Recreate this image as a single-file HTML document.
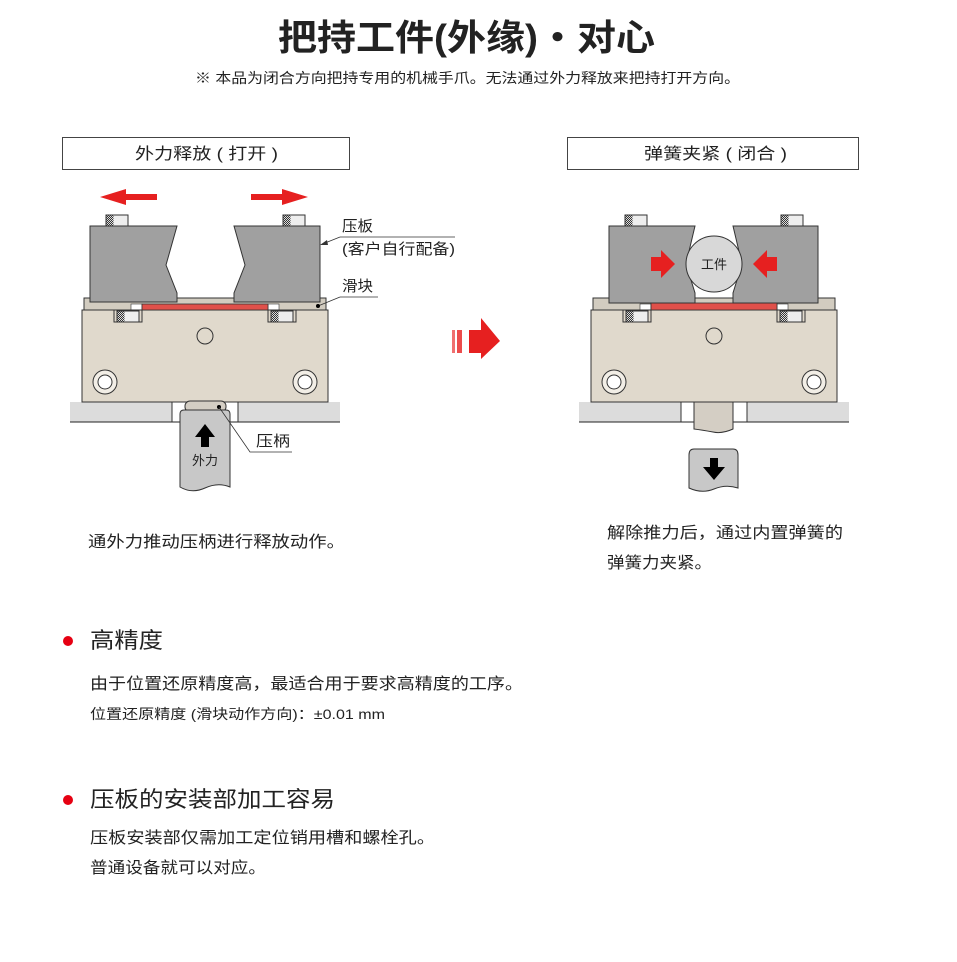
<!DOCTYPE html>
<html><head><meta charset="utf-8"><style>
html,body{margin:0;padding:0;background:#fff;width:957px;height:962px;overflow:hidden}
svg{display:block}
text{font-family:"Liberation Sans","Noto Sans CJK SC",sans-serif;fill:#222}
</style></head><body>
<svg width="957" height="962" viewBox="0 0 957 962" xmlns="http://www.w3.org/2000/svg">
<defs>
<pattern id="kn" width="2" height="2" patternUnits="userSpaceOnUse"><rect width="2" height="2" fill="#ddd"/><rect width="1" height="1" fill="#333"/><rect x="1" y="1" width="1" height="1" fill="#333"/></pattern>
<g id="bolt"><rect x="0" y="0" width="22" height="11" fill="#eee" stroke="#333" stroke-width="1"/><rect x="0.5" y="0.5" width="7" height="10" fill="url(#kn)"/></g>
<g id="base">
<rect x="70" y="402" width="102" height="20" fill="#dcdcdc"/>
<rect x="238" y="402" width="102" height="20" fill="#dcdcdc"/>
<line x1="70" y1="422" x2="340" y2="422" stroke="#222"/>
<line x1="172" y1="402" x2="172" y2="422" stroke="#333"/>
<line x1="238" y1="402" x2="238" y2="422" stroke="#333"/>
<rect x="84" y="298" width="242" height="12" fill="#d2ccc0" stroke="#333"/>
<rect x="82" y="310" width="246" height="92" fill="#e0d9cc" stroke="#333"/>
<rect x="131" y="304" width="11" height="6" fill="#fff" stroke="#333" stroke-width=".6"/>
<rect x="268" y="304" width="11" height="6" fill="#fff" stroke="#333" stroke-width=".6"/>
<rect x="142" y="304" width="126" height="6" fill="#e0504a" stroke="#333" stroke-width=".8"/>
<rect x="114" y="310" width="28" height="12" fill="#e0d9cc" stroke="#333"/>
<use href="#bolt" transform="translate(117,311)"/>
<rect x="268" y="310" width="28" height="12" fill="#e0d9cc" stroke="#333"/>
<use href="#bolt" transform="translate(271,311)"/>
<circle cx="205" cy="336" r="8" fill="none" stroke="#333"/>
<circle cx="105" cy="382" r="12" fill="#f2eee6" stroke="#333"/>
<circle cx="105" cy="382" r="7" fill="#fff" stroke="#333"/>
<circle cx="305" cy="382" r="12" fill="#f2eee6" stroke="#333"/>
<circle cx="305" cy="382" r="7" fill="#fff" stroke="#333"/>
</g>
</defs>

<text x="278" y="50" font-size="36" font-weight="bold" fill="#111" textLength="377" lengthAdjust="spacingAndGlyphs">把持工件(外缘)・对心</text>
<text x="195" y="83" font-size="14" textLength="545" lengthAdjust="spacingAndGlyphs">※ 本品为闭合方向把持专用的机械手爪。无法通过外力释放来把持打开方向。</text>

<rect x="62.5" y="137.5" width="287" height="32" fill="#fff" stroke="#444"/>
<text x="135" y="159" font-size="16" textLength="143" lengthAdjust="spacingAndGlyphs">外力释放 ( 打开 )</text>
<rect x="567.5" y="137.5" width="291" height="32" fill="#fff" stroke="#444"/>
<text x="644" y="159" font-size="16" textLength="143" lengthAdjust="spacingAndGlyphs">弹簧夹紧 ( 闭合 )</text>

<!-- LEFT -->
<use href="#base"/>
<use href="#bolt" transform="translate(106,215)"/>
<use href="#bolt" transform="translate(283,215)"/>
<path d="M90,226 H177 L166,265 L177,293 V302 H90 Z" fill="#a0a0a0" stroke="#333"/>
<path d="M320,226 H234 L245,265 L234,293 V302 H320 Z" fill="#a0a0a0" stroke="#333"/>
<polygon points="100,197 126,189 126,194 157,194 157,200 126,200 126,205" fill="#e62020"/>
<polygon points="308,197 282,189 282,194 251,194 251,200 282,200 282,205" fill="#e62020"/>
<rect x="185" y="401" width="41" height="11" rx="5" fill="#d4cec4" stroke="#333"/>
<path d="M180,414 Q180,410 184,410 H226 Q230,410 230,414 V487 Q218,482 205,488 Q192,494 180,487 Z" fill="#c8c8c8" stroke="#333"/>
<polygon points="205,424 215,437 209,437 209,447 201,447 201,437 195,437" fill="#000"/>
<text x="205" y="465" text-anchor="middle" font-size="13">外力</text>
<circle cx="219" cy="407" r="2" fill="#000"/>
<polyline points="219,407 250,452 292,452" fill="none" stroke="#333" stroke-width=".8"/>
<text x="256" y="446" font-size="15" textLength="34" lengthAdjust="spacingAndGlyphs">压柄</text>
<text x="342" y="231" font-size="15" textLength="31" lengthAdjust="spacingAndGlyphs">压板</text>
<line x1="340" y1="237" x2="455" y2="237" stroke="#333" stroke-width=".8"/>
<text x="342" y="254" font-size="15" textLength="113" lengthAdjust="spacingAndGlyphs">(客户自行配备)</text>
<line x1="340" y1="237" x2="325" y2="243" stroke="#333" stroke-width=".8"/>
<polygon points="320,245 327,240 328,245" fill="#333"/>
<text x="342" y="291" font-size="15" textLength="31" lengthAdjust="spacingAndGlyphs">滑块</text>
<line x1="340" y1="297" x2="378" y2="297" stroke="#333" stroke-width=".8"/>
<line x1="340" y1="297" x2="318" y2="306" stroke="#333" stroke-width=".8"/>
<circle cx="318" cy="306" r="2" fill="#000"/>

<!-- middle arrow -->
<rect x="452" y="330" width="3" height="23" fill="#f07070"/>
<rect x="457" y="330" width="5" height="23" fill="#ec4c4c"/>
<polygon points="469,330 481,330 481,318 500,341 481,359 481,353 469,353" fill="#e62020"/>

<!-- RIGHT -->
<g transform="translate(509,0)"><use href="#base"/></g>
<rect x="651" y="303" width="126" height="7" fill="#e0504a" stroke="#333" stroke-width=".8"/>
<use href="#bolt" transform="translate(625,215)"/>
<use href="#bolt" transform="translate(781,215)"/>
<path d="M609,226 H695 L686,264 L695,293 V303 H609 Z" fill="#a0a0a0" stroke="#333"/>
<path d="M818,226 H733 L742,264 L733,293 V303 H818 Z" fill="#a0a0a0" stroke="#333"/>
<circle cx="714" cy="264" r="28" fill="#d8d8d8" stroke="#333"/>
<text x="714" y="269" text-anchor="middle" font-size="13">工件</text>
<polygon points="651,257 661,257 661,250 675,264 661,278 661,271 651,271" fill="#e62020"/>
<polygon points="777,257 767,257 767,250 753,264 767,278 767,271 777,271" fill="#e62020"/>
<path d="M694,402 H733 V429 Q722,434 713,432 Q702,430 694,429 Z" fill="#d4cec4" stroke="#333"/>
<path d="M689,455 Q689,449 694,449 H733 Q738,449 738,455 V488 Q726,484 714,489 Q702,494 689,488 Z" fill="#c8c8c8" stroke="#333"/>
<polygon points="714,480 725,467 718,467 718,458 710,458 710,467 703,467" fill="#000"/>

<!-- texts -->
<text x="88" y="547" font-size="16" textLength="257" lengthAdjust="spacingAndGlyphs">通外力推动压柄进行释放动作。</text>
<text x="607" y="538" font-size="16" textLength="236" lengthAdjust="spacingAndGlyphs">解除推力后，通过内置弹簧的</text>
<text x="607" y="568" font-size="16" textLength="105" lengthAdjust="spacingAndGlyphs">弹簧力夹紧。</text>

<circle cx="68" cy="641" r="5" fill="#e60012"/>
<text x="90" y="648" font-size="22" textLength="73" lengthAdjust="spacingAndGlyphs">高精度</text>
<text x="90" y="689" font-size="16" textLength="433" lengthAdjust="spacingAndGlyphs">由于位置还原精度高，最适合用于要求高精度的工序。</text>
<text x="90" y="719" font-size="14" textLength="295" lengthAdjust="spacingAndGlyphs">位置还原精度 (滑块动作方向)：±0.01 mm</text>

<circle cx="68" cy="800" r="5" fill="#e60012"/>
<text x="90" y="807" font-size="22" textLength="245" lengthAdjust="spacingAndGlyphs">压板的安装部加工容易</text>
<text x="90" y="843" font-size="16" textLength="345" lengthAdjust="spacingAndGlyphs">压板安装部仅需加工定位销用槽和螺栓孔。</text>
<text x="90" y="873" font-size="16" textLength="176" lengthAdjust="spacingAndGlyphs">普通设备就可以对应。</text>
</svg>
</body></html>
